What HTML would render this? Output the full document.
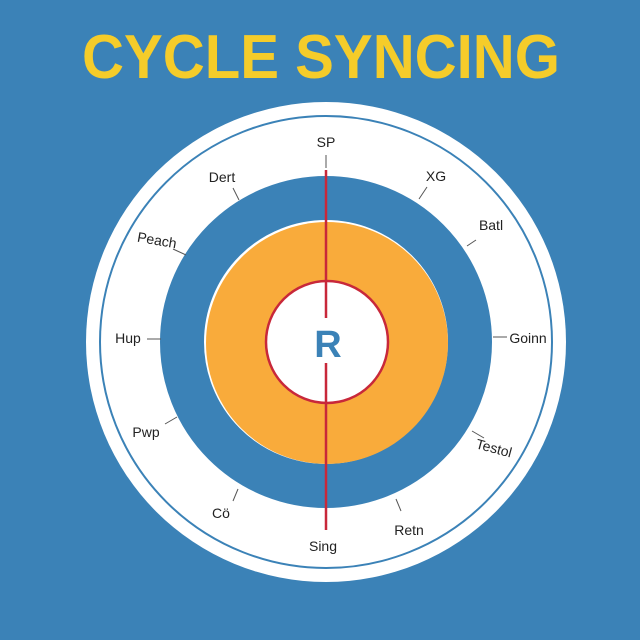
<!DOCTYPE html>
<html><head><style>html,body{margin:0;padding:0;background:#3b82b7;overflow:hidden;}</style></head>
<body>
<svg width="640" height="640" viewBox="0 0 640 640" xmlns="http://www.w3.org/2000/svg" font-family="Liberation Sans, sans-serif" style="display:block">
<rect width="640" height="640" fill="#3b82b7"/>
<text x="321" y="78" text-anchor="middle" font-size="62" font-weight="bold" fill="#f5cc2a" textLength="478" lengthAdjust="spacingAndGlyphs">CYCLE SYNCING</text>
<circle cx="326" cy="342" r="240" fill="#fff"/>
<circle cx="326" cy="342" r="226" fill="none" stroke="#3b82b7" stroke-width="2"/>
<circle cx="326" cy="342" r="144" fill="none" stroke="#3b82b7" stroke-width="44"/>
<circle cx="327" cy="343" r="121" fill="#f9ab3b"/>
<circle cx="327" cy="342" r="61" fill="#fff" stroke="#c8283a" stroke-width="2.5"/>
<line x1="326" y1="170" x2="326" y2="318" stroke="#c8283a" stroke-width="2.5"/>
<line x1="326" y1="363" x2="326" y2="530" stroke="#c8283a" stroke-width="2.5"/>
<line x1="326" y1="155" x2="326" y2="168" stroke="#555" stroke-width="1"/>
<text x="328" y="357" text-anchor="middle" font-size="38" font-weight="bold" fill="#3b82b7">R</text>
<g stroke="#555" stroke-width="1">
<line x1="233" y1="188" x2="239" y2="200"/>
<line x1="427" y1="187" x2="419" y2="199"/>
<line x1="476" y1="240" x2="467" y2="246"/>
<line x1="173" y1="249" x2="186" y2="255"/>
<line x1="147" y1="339" x2="161" y2="339"/>
<line x1="493" y1="337" x2="507" y2="337"/>
<line x1="165" y1="424" x2="177" y2="417"/>
<line x1="472" y1="431" x2="484" y2="438"/>
<line x1="233" y1="501" x2="238" y2="489"/>
<line x1="396" y1="499" x2="401" y2="511"/>
</g>
<g font-size="14" fill="#222" text-anchor="middle">
<text x="326" y="147">SP</text>
<text x="222" y="182">Dert</text>
<text x="436" y="181">XG</text>
<text x="491" y="230">Batl</text>
<text x="157" y="245" transform="rotate(10 157 240)">Peach</text>
<text x="128" y="343">Hup</text>
<text x="528" y="343">Goinn</text>
<text x="146" y="437">Pwp</text>
<text x="494" y="453" transform="rotate(15 494 448)">Testol</text>
<text x="221" y="518">Cö</text>
<text x="409" y="535">Retn</text>
<text x="323" y="551">Sing</text>
</g>
</svg>
</body></html>
